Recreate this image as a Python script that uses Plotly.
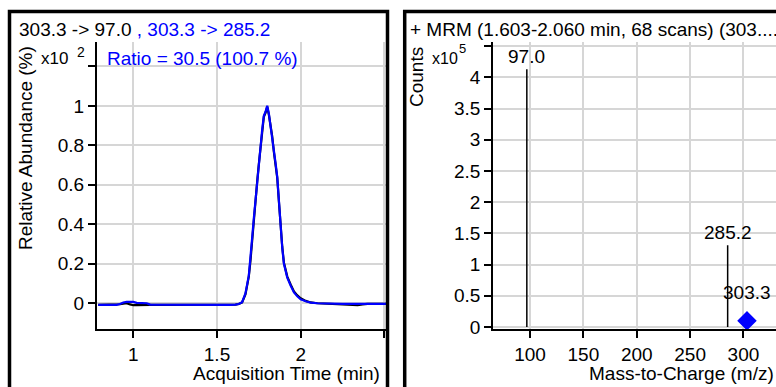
import plotly.graph_objects as go

# ---------------- data ----------------
time_min = [0.79, 0.85, 0.90, 0.92, 0.94, 0.96, 0.98, 1.00, 1.02, 1.05, 1.08, 1.10,
            1.20, 1.30, 1.40, 1.50, 1.58, 1.61, 1.63, 1.65, 1.67, 1.69, 1.70, 1.71,
            1.72, 1.73, 1.74, 1.75, 1.76, 1.77, 1.78, 1.79, 1.80, 1.81, 1.82, 1.83,
            1.84, 1.85, 1.86, 1.87, 1.88, 1.89, 1.90, 1.91, 1.92, 1.94, 1.96, 1.98,
            2.00, 2.03, 2.06, 2.10, 2.15, 2.20, 2.25, 2.28, 2.31, 2.34, 2.37, 2.40,
            2.45, 2.51]
quant_97 = [-0.008, -0.008, -0.008, -0.005, -0.002, 0.000, -0.006, -0.010, -0.010, -0.009, -0.009, -0.008,
            -0.008, -0.008, -0.008, -0.008, -0.008, -0.007, -0.004, 0.004, 0.045, 0.135, 0.215, 0.325,
            0.425, 0.525, 0.615, 0.705, 0.785, 0.875, 0.945, 0.965, 0.995, 0.955, 0.905, 0.845,
            0.765, 0.705, 0.635, 0.515, 0.375, 0.285, 0.205, 0.165, 0.135, 0.095, 0.06, 0.04,
            0.025, 0.012, 0.004, 0.000, -0.002, -0.003, -0.004, -0.009, -0.010, -0.010, -0.006, -0.003,
            -0.003, -0.003]
qual_285 = [-0.008, -0.008, -0.008, -0.004, 0.004, 0.007, 0.008, 0.007, 0.002, 0.000, 0.000, -0.007,
            -0.008, -0.008, -0.008, -0.008, -0.008, -0.007, -0.004, 0.005, 0.05, 0.14, 0.22, 0.33,
            0.43, 0.53, 0.62, 0.71, 0.79, 0.88, 0.95, 0.97, 1.00, 0.96, 0.90, 0.85,
            0.77, 0.71, 0.64, 0.52, 0.37, 0.28, 0.20, 0.16, 0.13, 0.09, 0.055, 0.035,
            0.02, 0.01, 0.003, 0.000, -0.002, -0.003, -0.003, -0.003, -0.003, -0.003, -0.003, -0.003,
            -0.003, -0.003]

ms_mz = [97.0, 285.2]
ms_counts = [4.13, 1.31]          # x10^5
ms_labels = ["97.0", "285.2"]
precursor_mz = [303.3]
precursor_counts = [0.10]
precursor_labels = ["303.3"]

chrom_yticks = [0, 0.2, 0.4, 0.6, 0.8, 1, 1.2]
chrom_yticktext = ["0", "0.2", "0.4", "0.6", "0.8", "1", " "]
chrom_xticks = [1, 1.5, 2, 2.5]
chrom_xticktext = ["1", "1.5", "2", " "]
ms_yticks = [0, 0.5, 1, 1.5, 2, 2.5, 3, 3.5, 4, 4.5]
ms_yticktext = ["0", "0.5", "1", "1.5", "2", "2.5", "3", "3.5", "4", " "]
ms_xticks = [100, 150, 200, 250, 300, 350]

W, H = 776, 387
FONT = "Liberation Sans, Arial, sans-serif"
FS = 19
BLUE = "#0000ff"
GRID = "#d6d6d6"

def px(x):
    return x / W

def py(y):
    return (H - y) / H

fig = go.Figure()

fig.add_trace(go.Scatter(x=time_min, y=quant_97, mode="lines",
                         line=dict(color="black", width=2.2), xaxis="x", yaxis="y",
                         showlegend=False, hoverinfo="skip"))
fig.add_trace(go.Scatter(x=time_min, y=qual_285, mode="lines",
                         line=dict(color=BLUE, width=2.2), xaxis="x", yaxis="y",
                         showlegend=False, hoverinfo="skip"))

stick_x, stick_y = [], []
for m, c in zip(ms_mz, ms_counts):
    stick_x += [m, m, None]
    stick_y += [0, c, None]
fig.add_trace(go.Scatter(x=stick_x, y=stick_y, mode="lines",
                         line=dict(color="black", width=1.5), xaxis="x2", yaxis="y2",
                         showlegend=False, hoverinfo="skip"))
fig.add_trace(go.Scatter(x=precursor_mz, y=precursor_counts, mode="markers",
                         marker=dict(symbol="diamond", size=15, color=BLUE, line=dict(width=0)),
                         xaxis="x2", yaxis="y2", showlegend=False, hoverinfo="skip"))

common_axis = dict(showline=True, linecolor="black", linewidth=1.5,
                   ticks="outside", ticklen=7, tickwidth=1.5, tickcolor="black",
                   showgrid=True, gridcolor=GRID, gridwidth=2, zeroline=False,
                   automargin=False,
                   tickfont=dict(family=FONT, size=FS, color="black"))

ydom = [py(329.3), py(41.7)]
fig.update_layout(
    template="none",
    width=W, height=H, autosize=False,
    margin=dict(l=0, r=0, t=0, b=0, pad=0),
    paper_bgcolor="white", plot_bgcolor="white",
    font=dict(family=FONT, size=FS, color="black"),
    xaxis=dict(domain=[px(96.7), px(386)], range=[0.781, 2.51],
               tickvals=chrom_xticks, ticktext=chrom_xticktext, anchor="y", **common_axis),
    yaxis=dict(domain=ydom, range=[-0.132, 1.325],
               tickvals=chrom_yticks, ticktext=chrom_yticktext, anchor="x", **common_axis),
    xaxis2=dict(domain=[px(493), 1.0], range=[65.3, 330.5],
                tickvals=ms_xticks, anchor="y2", **common_axis),
    yaxis2=dict(domain=ydom, range=[-0.037, 4.57],
                tickvals=ms_yticks, ticktext=ms_yticktext, anchor="x2", **common_axis),
)

ann = []
def text(x, y, s, color="black", xanchor="left", yanchor="middle", angle=0, size=FS):
    ann.append(dict(x=px(x), y=py(y), xref="paper", yref="paper", text=s,
                    showarrow=False, xanchor=xanchor, yanchor=yanchor, textangle=angle,
                    font=dict(family=FONT, size=size, color=color)))

text(17, 29.5, "303.3 -> 97.0<span style='color:#0000ff'> , 303.3 -> 285.2</span>")
text(105, 58, "Ratio = 30.5 (100.7 %)", color=BLUE)
text(70, 58.5, "x10", xanchor="right", size=17)
text(87, 52, "2", xanchor="right", size=14)
text(25, 148, "Relative Abundance (%)", xanchor="center", angle=-90)
text(382, 373, "Acquisition Time (min)", xanchor="right")

text(408, 29.5, "+ MRM (1.603-2.060 min, 68 scans) (303....")
text(460, 58.5, "x10", xanchor="right", size=16)
text(468, 49, "5", xanchor="right", size=13)
text(417, 77, "Counts", xanchor="center", angle=-90)
text(776, 373, "Mass-to-Charge (m/z)", xanchor="right")

for m, c, lab in zip(ms_mz, ms_counts, ms_labels):
    ann.append(dict(x=m, y=c, xref="x2", yref="y2", text=lab, showarrow=False,
                    xanchor="center", yanchor="bottom", yshift=0,
                    font=dict(family=FONT, size=FS, color="black")))
for m, c, lab in zip(precursor_mz, precursor_counts, precursor_labels):
    ann.append(dict(x=m, y=c, xref="x2", yref="y2", text=lab, showarrow=False,
                    xanchor="center", yanchor="bottom", yshift=16,
                    font=dict(family=FONT, size=FS, color="black")))
fig.update_layout(annotations=ann)

# panel frames
fig.update_layout(shapes=[
    dict(type="rect", xref="paper", yref="paper", x0=px(9.5), x1=px(387.5),
         y0=py(420), y1=py(11.5), line=dict(color="black", width=3.5)),
    dict(type="rect", xref="paper", yref="paper", x0=px(404.7), x1=px(820),
         y0=py(420), y1=py(11.5), line=dict(color="black", width=3.5)),
])

fig.write_html("out.html", config={"displayModeBar": False, "responsive": False},
               post_script="document.body.style.margin='0px';document.body.style.overflow='hidden';")
